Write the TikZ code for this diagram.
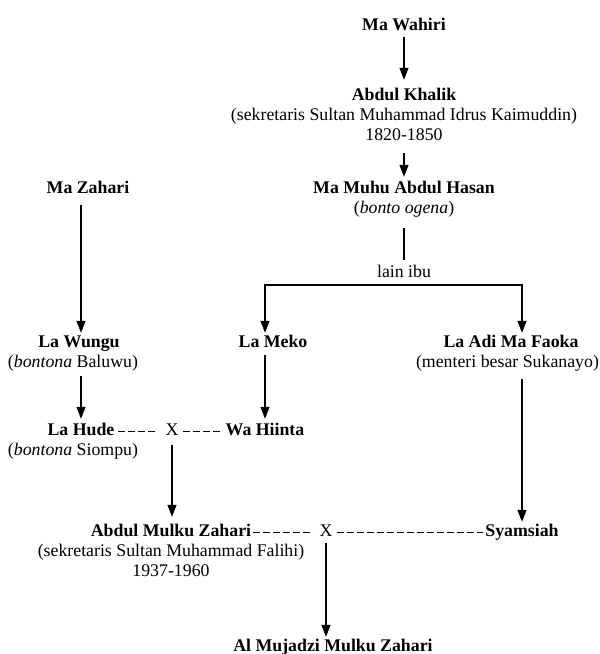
\documentclass[tikz,border=0pt]{standalone}
\usepackage{fontspec}
\setmainfont{Liberation Serif}
\usetikzlibrary{arrows.meta,positioning}
\newcommand{\treefont}{\fontsize{17.8}{20.5}\selectfont}

\begin{document}
\begin{tikzpicture}[x=1pt,y=-1pt,>={Triangle[width=9pt,length=12pt]},
 person/.style={font=\treefont\bfseries,inner sep=0pt,text height=13pt,text depth=4pt},
 note/.style={font=\treefont,inner sep=0pt,text height=13pt,text depth=4pt},
 arr/.style={->,line width=1.1pt,shorten <=4pt,shorten >=3pt},
 link/.style={line width=1.1pt},
 wed/.style={line width=0.9pt,dash pattern=on 7pt off 3pt}]
\useasboundingbox (0,0) rectangle (600,654);
% ancestors
\node[person] (wahiri) at (404,25.5) {Ma Wahiri};
\node[person] (khalik) at (404,95.5) {Abdul Khalik};
\node[note,below=3pt of khalik] (khaliknote) {(sekretaris Sultan Muhammad Idrus Kaimuddin)};
\node[note,below=3pt of khaliknote] (khalikyear) {1820-1850};
\node[person] (muhu) at (404,188.5) {Ma Muhu Abdul Hasan};
\node[note,below=3pt of muhu] (muhunote) {(\textit{bonto ogena})};
\node[person] (zahari) at (88,188.5) {Ma Zahari};
\node[note] (lainibu) at (404,272.5) {lain ibu};
% children
\node[person] (wungu) at (79,342.5) {La Wungu};
\node[note,below=3pt of wungu,xshift=-6pt] (wungunote) {(\textit{bontona} Baluwu)};
\node[person] (meko) at (273,342.5) {La Meko};
\node[person] (adi) at (511,342.5) {La Adi Ma Faoka};
\node[note,below=3pt of adi,xshift=-3.5pt] (adinote) {(menteri besar Sukanayo)};
\node[person] (hude) at (81,430.5) {La Hude};
\node[note,below=3pt of hude,xshift=-8pt] (hudenote) {(\textit{bontona} Siompu)};
\node[note] (xa) at (172,430.5) {X};
\node[person] (hiinta) at (265,430.5) {Wa Hiinta};
\node[person] (mulku) at (171,531.5) {Abdul Mulku Zahari};
\node[note,below=3pt of mulku] (mulkunote) {(sekretaris Sultan Muhammad Falihi)};
\node[note,below=3pt of mulkunote] (mulkuyear) {1937-1960};
\node[note] (xb) at (326,531.5) {X};
\node[person] (syamsiah) at (522,531.5) {Syamsiah};
\node[person] (mujadzi) at (333,646.5) {Al Mujadzi Mulku Zahari};
\coordinate (barL) at (hiinta.north |- 0,285);
\coordinate (barR) at (syamsiah.north |- 0,285);
% descent
\draw[arr,shorten <=3pt,shorten >=7pt] (wahiri) -- (khalik);
\draw[arr,shorten <=8pt] (khalikyear) -- (muhu);
\draw[link,shorten <=10pt,shorten >=4pt] (muhunote) -- (lainibu);
\draw[link,{Triangle[width=9pt,length=12pt]}-{Triangle[width=9pt,length=12pt]},shorten <=1pt,shorten >=1pt]
  (barL |- meko.north) -- (barL) -- (barR) -- (barR |- adi.north);
\draw[arr,shorten <=8pt,shorten >=1pt] (zahari.south -| hude.north) -- (hude.north |- wungu.north);
\draw[arr] (wungunote.south -| hude.north) -- (hude.north);
\draw[arr] (meko.south -| hiinta.north) -- (hiinta.north);
\draw[arr,shorten <=7pt,shorten >=1pt] (adinote.south -| syamsiah.north) -- (syamsiah.north);
\draw[arr,shorten <=6pt,shorten >=6pt] (xa.south) -- (xa.south |- mulku.north);
\draw[arr,shorten <=3pt,shorten >=1pt] (xb.south) -- (xb.south |- mujadzi.north);
% marriages
\draw[wed] ([yshift=-1.2pt,xshift=3.6pt]hude.east) -- ([yshift=-1.2pt,xshift=-10.5pt]xa.west);
\draw[wed] ([yshift=-1.2pt,xshift=4.5pt]xa.east) -- ([yshift=-1.2pt,xshift=-5.7pt]hiinta.west);
\draw[wed] ([yshift=-1.2pt,xshift=2pt]mulku.east) -- ([yshift=-1.2pt,xshift=-9pt]xb.west);
\draw[wed] ([yshift=-1.2pt,xshift=4pt]xb.east) -- ([yshift=-1.2pt,xshift=-2.5pt]syamsiah.west);
\end{tikzpicture}
\end{document}
